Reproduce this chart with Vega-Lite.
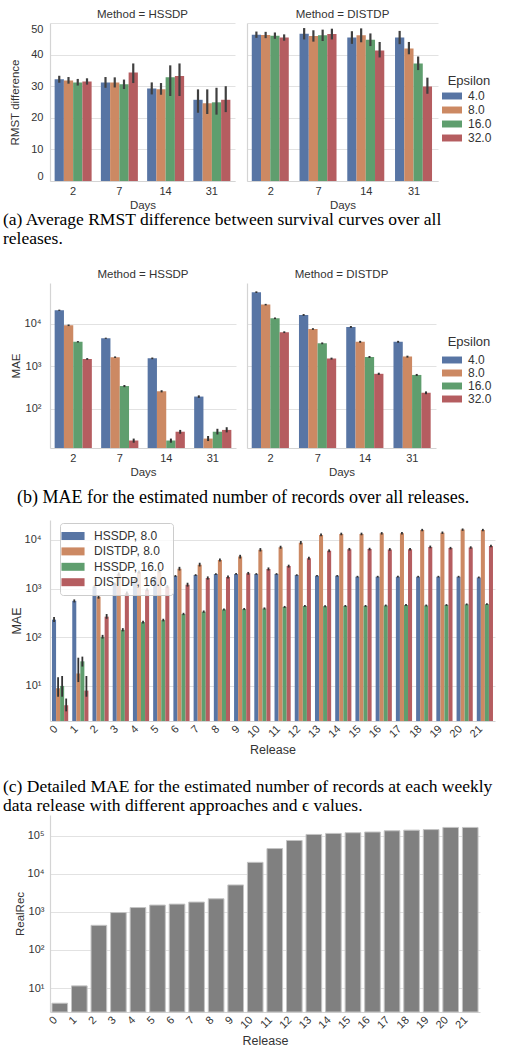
{
  "$schema": "https://vega.github.io/schema/vega-lite/v6.json",
  "padding": {"left": 3, "top": 8, "right": 2, "bottom": 0},
  "config": {
    "font": "Liberation Sans",
    "view": {"stroke": null},
    "axis": {"domainColor": "#d4d4d4", "gridColor": "#e2e2e2", "ticks": false, "labelColor": "#333333", "titleColor": "#333333", "titleFontWeight": "normal", "labelFontSize": 11, "titleFontSize": 11.5, "domainWidth": 1.2, "gridWidth": 1, "labelOverlap": false},
    "axisX": {"grid": false},
    "legend": {"labelColor": "#333333", "titleColor": "#333333", "labelFont": "Liberation Sans", "titleFont": "Liberation Sans"},
    "title": {"color": "#333333", "fontWeight": "normal", "font": "Liberation Sans"}
  },
  "datasets": {
    "a": [
      {"Method":"HSSDP","Days":2,"Epsilon":"4.0","v":32.2,"lo":31.1,"hi":33.3},
      {"Method":"HSSDP","Days":2,"Epsilon":"8.0","v":31.8,"lo":30.8,"hi":32.9},
      {"Method":"HSSDP","Days":2,"Epsilon":"16.0","v":31.2,"lo":30.2,"hi":32.3},
      {"Method":"HSSDP","Days":2,"Epsilon":"32.0","v":31.5,"lo":30.5,"hi":32.5},
      {"Method":"HSSDP","Days":7,"Epsilon":"4.0","v":31.2,"lo":29.5,"hi":32.9},
      {"Method":"HSSDP","Days":7,"Epsilon":"8.0","v":31.2,"lo":29.6,"hi":32.8},
      {"Method":"HSSDP","Days":7,"Epsilon":"16.0","v":30.6,"lo":29.1,"hi":32.1},
      {"Method":"HSSDP","Days":7,"Epsilon":"32.0","v":34.3,"lo":31.0,"hi":37.2},
      {"Method":"HSSDP","Days":14,"Epsilon":"4.0","v":29.3,"lo":27.4,"hi":31.2},
      {"Method":"HSSDP","Days":14,"Epsilon":"8.0","v":29.0,"lo":27.3,"hi":31.0},
      {"Method":"HSSDP","Days":14,"Epsilon":"16.0","v":32.8,"lo":26.9,"hi":36.6},
      {"Method":"HSSDP","Days":14,"Epsilon":"32.0","v":33.2,"lo":26.9,"hi":37.2},
      {"Method":"HSSDP","Days":31,"Epsilon":"4.0","v":25.7,"lo":21.6,"hi":29.0},
      {"Method":"HSSDP","Days":31,"Epsilon":"8.0","v":24.6,"lo":21.2,"hi":29.0},
      {"Method":"HSSDP","Days":31,"Epsilon":"16.0","v":24.9,"lo":21.0,"hi":29.5},
      {"Method":"HSSDP","Days":31,"Epsilon":"32.0","v":25.7,"lo":21.8,"hi":30.0},
      {"Method":"DISTDP","Days":2,"Epsilon":"4.0","v":46.3,"lo":45.3,"hi":47.3},
      {"Method":"DISTDP","Days":2,"Epsilon":"8.0","v":46.2,"lo":45.2,"hi":47.2},
      {"Method":"DISTDP","Days":2,"Epsilon":"16.0","v":46.0,"lo":45.0,"hi":47.0},
      {"Method":"DISTDP","Days":2,"Epsilon":"32.0","v":45.4,"lo":44.4,"hi":46.4},
      {"Method":"DISTDP","Days":7,"Epsilon":"4.0","v":46.6,"lo":44.8,"hi":48.4},
      {"Method":"DISTDP","Days":7,"Epsilon":"8.0","v":45.9,"lo":44.1,"hi":47.7},
      {"Method":"DISTDP","Days":7,"Epsilon":"16.0","v":46.1,"lo":44.3,"hi":47.9},
      {"Method":"DISTDP","Days":7,"Epsilon":"32.0","v":46.5,"lo":44.8,"hi":48.2},
      {"Method":"DISTDP","Days":14,"Epsilon":"4.0","v":45.4,"lo":43.4,"hi":47.4},
      {"Method":"DISTDP","Days":14,"Epsilon":"8.0","v":46.1,"lo":43.9,"hi":48.3},
      {"Method":"DISTDP","Days":14,"Epsilon":"16.0","v":44.7,"lo":42.7,"hi":46.7},
      {"Method":"DISTDP","Days":14,"Epsilon":"32.0","v":41.3,"lo":39.1,"hi":44.0},
      {"Method":"DISTDP","Days":31,"Epsilon":"4.0","v":45.4,"lo":43.3,"hi":47.5},
      {"Method":"DISTDP","Days":31,"Epsilon":"8.0","v":41.9,"lo":40.1,"hi":44.0},
      {"Method":"DISTDP","Days":31,"Epsilon":"16.0","v":37.2,"lo":35.1,"hi":39.4},
      {"Method":"DISTDP","Days":31,"Epsilon":"32.0","v":29.9,"lo":27.6,"hi":32.7}
    ],
    "b": [
      {"Method":"HSSDP","Days":2,"Epsilon":"4.0","v":21000,"lo":20300,"hi":21700},
      {"Method":"HSSDP","Days":2,"Epsilon":"8.0","v":9300,"lo":8900,"hi":9700},
      {"Method":"HSSDP","Days":2,"Epsilon":"16.0","v":3800,"lo":3650,"hi":3950},
      {"Method":"HSSDP","Days":2,"Epsilon":"32.0","v":1500,"lo":1430,"hi":1570},
      {"Method":"HSSDP","Days":7,"Epsilon":"4.0","v":4600,"lo":4450,"hi":4750},
      {"Method":"HSSDP","Days":7,"Epsilon":"8.0","v":1650,"lo":1580,"hi":1720},
      {"Method":"HSSDP","Days":7,"Epsilon":"16.0","v":345,"lo":325,"hi":365},
      {"Method":"HSSDP","Days":7,"Epsilon":"32.0","v":18,"lo":16,"hi":20},
      {"Method":"HSSDP","Days":14,"Epsilon":"4.0","v":1550,"lo":1480,"hi":1620},
      {"Method":"HSSDP","Days":14,"Epsilon":"8.0","v":260,"lo":245,"hi":275},
      {"Method":"HSSDP","Days":14,"Epsilon":"16.0","v":18,"lo":16,"hi":20},
      {"Method":"HSSDP","Days":14,"Epsilon":"32.0","v":29,"lo":26,"hi":32},
      {"Method":"HSSDP","Days":31,"Epsilon":"4.0","v":195,"lo":182,"hi":208},
      {"Method":"HSSDP","Days":31,"Epsilon":"8.0","v":20,"lo":17.5,"hi":23},
      {"Method":"HSSDP","Days":31,"Epsilon":"16.0","v":29,"lo":25,"hi":34},
      {"Method":"HSSDP","Days":31,"Epsilon":"32.0","v":32,"lo":28,"hi":37},
      {"Method":"DISTDP","Days":2,"Epsilon":"4.0","v":56000,"lo":53500,"hi":58500},
      {"Method":"DISTDP","Days":2,"Epsilon":"8.0","v":28500,"lo":27300,"hi":29700},
      {"Method":"DISTDP","Days":2,"Epsilon":"16.0","v":13600,"lo":13000,"hi":14200},
      {"Method":"DISTDP","Days":2,"Epsilon":"32.0","v":6400,"lo":6100,"hi":6700},
      {"Method":"DISTDP","Days":7,"Epsilon":"4.0","v":16300,"lo":15500,"hi":17100},
      {"Method":"DISTDP","Days":7,"Epsilon":"8.0","v":7600,"lo":7250,"hi":7950},
      {"Method":"DISTDP","Days":7,"Epsilon":"16.0","v":3500,"lo":3330,"hi":3670},
      {"Method":"DISTDP","Days":7,"Epsilon":"32.0","v":1530,"lo":1450,"hi":1610},
      {"Method":"DISTDP","Days":14,"Epsilon":"4.0","v":8500,"lo":8050,"hi":8950},
      {"Method":"DISTDP","Days":14,"Epsilon":"8.0","v":3800,"lo":3600,"hi":4000},
      {"Method":"DISTDP","Days":14,"Epsilon":"16.0","v":1670,"lo":1580,"hi":1760},
      {"Method":"DISTDP","Days":14,"Epsilon":"32.0","v":670,"lo":630,"hi":710},
      {"Method":"DISTDP","Days":31,"Epsilon":"4.0","v":3800,"lo":3600,"hi":4000},
      {"Method":"DISTDP","Days":31,"Epsilon":"8.0","v":1700,"lo":1610,"hi":1790},
      {"Method":"DISTDP","Days":31,"Epsilon":"16.0","v":630,"lo":595,"hi":665},
      {"Method":"DISTDP","Days":31,"Epsilon":"32.0","v":240,"lo":222,"hi":258}
    ],
    "c": [
      {"R":0,"S":"HSSDP, 8.0","v":230,"lo":205,"hi":260},{"R":0,"S":"DISTDP, 8.0","v":9,"lo":6,"hi":15},{"R":0,"S":"HSSDP, 16.0","v":10,"lo":6,"hi":16},{"R":0,"S":"DISTDP, 16.0","v":4,"lo":3,"hi":5.5},
      {"R":1,"S":"HSSDP, 8.0","v":560,"lo":520,"hi":600},{"R":1,"S":"DISTDP, 8.0","v":18,"lo":12,"hi":38},{"R":1,"S":"HSSDP, 16.0","v":32,"lo":25,"hi":40},{"R":1,"S":"DISTDP, 16.0","v":8,"lo":6,"hi":16},
      {"R":2,"S":"HSSDP, 8.0","v":1100,"lo":1020,"hi":1180},{"R":2,"S":"DISTDP, 8.0","v":680,"lo":620,"hi":740},{"R":2,"S":"HSSDP, 16.0","v":102,"lo":94,"hi":112},{"R":2,"S":"DISTDP, 16.0","v":265,"lo":240,"hi":300},
      {"R":3,"S":"HSSDP, 8.0","v":1250,"lo":1170,"hi":1330},{"R":3,"S":"DISTDP, 8.0","v":2000,"lo":1850,"hi":2150},{"R":3,"S":"HSSDP, 16.0","v":142,"lo":132,"hi":154},{"R":3,"S":"DISTDP, 16.0","v":800,"lo":740,"hi":870},
      {"R":4,"S":"HSSDP, 8.0","v":1500,"lo":1420,"hi":1580},{"R":4,"S":"DISTDP, 8.0","v":2200,"lo":2050,"hi":2350},{"R":4,"S":"HSSDP, 16.0","v":205,"lo":192,"hi":218},{"R":4,"S":"DISTDP, 16.0","v":950,"lo":880,"hi":1020},
      {"R":5,"S":"HSSDP, 8.0","v":1700,"lo":1620,"hi":1780},{"R":5,"S":"DISTDP, 8.0","v":2300,"lo":2150,"hi":2450},{"R":5,"S":"HSSDP, 16.0","v":225,"lo":212,"hi":240},{"R":5,"S":"DISTDP, 16.0","v":1100,"lo":1020,"hi":1180},
      {"R":6,"S":"HSSDP, 8.0","v":1820,"lo":1740,"hi":1900},{"R":6,"S":"DISTDP, 8.0","v":2550,"lo":2350,"hi":2800},{"R":6,"S":"HSSDP, 16.0","v":300,"lo":285,"hi":318},{"R":6,"S":"DISTDP, 16.0","v":1200,"lo":1100,"hi":1320},
      {"R":7,"S":"HSSDP, 8.0","v":1900,"lo":1820,"hi":1980},{"R":7,"S":"DISTDP, 8.0","v":3100,"lo":2850,"hi":3400},{"R":7,"S":"HSSDP, 16.0","v":335,"lo":318,"hi":355},{"R":7,"S":"DISTDP, 16.0","v":1650,"lo":1530,"hi":1780},
      {"R":8,"S":"HSSDP, 8.0","v":1990,"lo":1910,"hi":2070},{"R":8,"S":"DISTDP, 8.0","v":3870,"lo":3600,"hi":4150},{"R":8,"S":"HSSDP, 16.0","v":373,"lo":355,"hi":392},{"R":8,"S":"DISTDP, 16.0","v":1730,"lo":1620,"hi":1850},
      {"R":9,"S":"HSSDP, 8.0","v":2000,"lo":1920,"hi":2080},{"R":9,"S":"DISTDP, 8.0","v":4550,"lo":4150,"hi":4950},{"R":9,"S":"HSSDP, 16.0","v":380,"lo":362,"hi":400},{"R":9,"S":"DISTDP, 16.0","v":2060,"lo":1930,"hi":2200},
      {"R":10,"S":"HSSDP, 8.0","v":2000,"lo":1920,"hi":2080},{"R":10,"S":"DISTDP, 8.0","v":6300,"lo":5800,"hi":6800},{"R":10,"S":"HSSDP, 16.0","v":390,"lo":372,"hi":410},{"R":10,"S":"DISTDP, 16.0","v":2530,"lo":2350,"hi":2720},
      {"R":11,"S":"HSSDP, 8.0","v":2000,"lo":1920,"hi":2080},{"R":11,"S":"DISTDP, 8.0","v":7100,"lo":6600,"hi":7600},{"R":11,"S":"HSSDP, 16.0","v":420,"lo":400,"hi":440},{"R":11,"S":"DISTDP, 16.0","v":2900,"lo":2700,"hi":3100},
      {"R":12,"S":"HSSDP, 8.0","v":1900,"lo":1830,"hi":1970},{"R":12,"S":"DISTDP, 8.0","v":8800,"lo":8100,"hi":9500},{"R":12,"S":"HSSDP, 16.0","v":440,"lo":420,"hi":460},{"R":12,"S":"DISTDP, 16.0","v":4200,"lo":3900,"hi":4500},
      {"R":13,"S":"HSSDP, 8.0","v":1840,"lo":1770,"hi":1910},{"R":13,"S":"DISTDP, 8.0","v":12700,"lo":11900,"hi":13500},{"R":13,"S":"HSSDP, 16.0","v":435,"lo":415,"hi":455},{"R":13,"S":"DISTDP, 16.0","v":6000,"lo":5600,"hi":6400},
      {"R":14,"S":"HSSDP, 8.0","v":1830,"lo":1760,"hi":1900},{"R":14,"S":"DISTDP, 8.0","v":13300,"lo":12500,"hi":14100},{"R":14,"S":"HSSDP, 16.0","v":440,"lo":420,"hi":460},{"R":14,"S":"DISTDP, 16.0","v":6450,"lo":6050,"hi":6850},
      {"R":15,"S":"HSSDP, 8.0","v":1760,"lo":1690,"hi":1830},{"R":15,"S":"DISTDP, 8.0","v":13300,"lo":12500,"hi":14100},{"R":15,"S":"HSSDP, 16.0","v":440,"lo":420,"hi":460},{"R":15,"S":"DISTDP, 16.0","v":6500,"lo":6100,"hi":6900},
      {"R":16,"S":"HSSDP, 8.0","v":1760,"lo":1690,"hi":1830},{"R":16,"S":"DISTDP, 8.0","v":13700,"lo":12900,"hi":14500},{"R":16,"S":"HSSDP, 16.0","v":450,"lo":430,"hi":470},{"R":16,"S":"DISTDP, 16.0","v":6400,"lo":6000,"hi":6800},
      {"R":17,"S":"HSSDP, 8.0","v":1760,"lo":1690,"hi":1830},{"R":17,"S":"DISTDP, 8.0","v":13700,"lo":12900,"hi":14500},{"R":17,"S":"HSSDP, 16.0","v":460,"lo":440,"hi":480},{"R":17,"S":"DISTDP, 16.0","v":6450,"lo":6050,"hi":6850},
      {"R":18,"S":"HSSDP, 8.0","v":1760,"lo":1690,"hi":1830},{"R":18,"S":"DISTDP, 8.0","v":16000,"lo":15100,"hi":16900},{"R":18,"S":"HSSDP, 16.0","v":450,"lo":430,"hi":470},{"R":18,"S":"DISTDP, 16.0","v":7200,"lo":6750,"hi":7650},
      {"R":19,"S":"HSSDP, 8.0","v":1760,"lo":1690,"hi":1830},{"R":19,"S":"DISTDP, 8.0","v":14100,"lo":13300,"hi":14900},{"R":19,"S":"HSSDP, 16.0","v":460,"lo":440,"hi":480},{"R":19,"S":"DISTDP, 16.0","v":6800,"lo":6400,"hi":7200},
      {"R":20,"S":"HSSDP, 8.0","v":1760,"lo":1690,"hi":1830},{"R":20,"S":"DISTDP, 8.0","v":16300,"lo":15400,"hi":17200},{"R":20,"S":"HSSDP, 16.0","v":475,"lo":455,"hi":495},{"R":20,"S":"DISTDP, 16.0","v":7000,"lo":6600,"hi":7400},
      {"R":21,"S":"HSSDP, 8.0","v":1700,"lo":1630,"hi":1770},{"R":21,"S":"DISTDP, 8.0","v":16000,"lo":15100,"hi":16900},{"R":21,"S":"HSSDP, 16.0","v":480,"lo":460,"hi":500},{"R":21,"S":"DISTDP, 16.0","v":7500,"lo":7050,"hi":7950}
    ],
    "d": [
      {"R":0,"v":4.0},{"R":1,"v":11.4},{"R":2,"v":444},{"R":3,"v":960},{"R":4,"v":1300},{"R":5,"v":1510},
      {"R":6,"v":1600},{"R":7,"v":1810},{"R":8,"v":2210},{"R":9,"v":5100},{"R":10,"v":20000},{"R":11,"v":46000},
      {"R":12,"v":75000},{"R":13,"v":108000},{"R":14,"v":115000},{"R":15,"v":120000},{"R":16,"v":125000},
      {"R":17,"v":135000},{"R":18,"v":140000},{"R":19,"v":145000},{"R":20,"v":165000},{"R":21,"v":165000}
    ]
  },
  "columns": 1,
  "align": "none",
  "spacing": 13,
  "resolve": {"scale": {"x": "independent", "y": "independent", "color": "independent", "xOffset": "independent"}, "legend": {"color": "independent"}},
  "concat": [
    {
      "columns": 1,
      "align": "none",
      "spacing": 21,
      "resolve": {"scale": {"x": "independent", "y": "independent", "color": "independent", "xOffset": "independent"}, "legend": {"color": "independent"}},
      "concat": [
        {
          "title": {"text": ["(a) Average RMST difference between survival curves over all", "releases."], "orient": "bottom", "anchor": "start", "frame": "group", "dx": -47, "font": "Liberation Serif", "fontSize": 17.5, "lineHeight": 19, "color": "#000000", "fontWeight": "normal", "offset": 0},
          "spacing": 12,
          "resolve": {"legend": {"color": "independent"}},
          "hconcat": [
            {
              "width": 185, "height": 158,
              "data": {"name": "a"},
              "transform": [{"filter": "datum.Method === 'HSSDP'"}],
              "title": {"text": "Method = HSSDP", "fontSize": 11.5, "offset": 3},
              "encoding": {
                "x": {"field": "Days", "type": "ordinal", "title": "Days", "scale": {"paddingInner": 0.2, "paddingOuter": 0.1}, "axis": {"labelAngle": 0, "labelPadding": 4, "titlePadding": 3}},
                "xOffset": {"field": "Epsilon", "type": "nominal", "sort": ["4.0","8.0","16.0","32.0"], "scale": {"paddingInner": 0, "paddingOuter": 0}}
              },
              "layer": [
                {"mark": "bar", "encoding": {
                  "y": {"field": "v", "type": "quantitative", "title": "RMST difference", "scale": {"domain": [0, 50], "nice": false}, "axis": {"values": [0,10,20,30,40,50], "labelPadding": 7, "titlePadding": 10, "labelFlush": true}},
                  "color": {"field": "Epsilon", "type": "nominal", "sort": ["4.0","8.0","16.0","32.0"], "scale": {"domain": ["4.0","8.0","16.0","32.0"], "range": ["#5875A4","#CC8963","#5F9E6E","#B55D60"]}, "legend": null}}},
                {"mark": {"type": "rule", "color": "#404040", "strokeWidth": 2.2}, "encoding": {"y": {"field": "lo", "type": "quantitative", "title": "RMST difference", "axis": {"values": [0,10,20,30,40,50], "labelPadding": 7, "titlePadding": 10, "labelFlush": true}}, "y2": {"field": "hi"}}}
              ]
            },
            {
              "width": 191, "height": 158,
              "data": {"name": "a"},
              "transform": [{"filter": "datum.Method === 'DISTDP'"}],
              "title": {"text": "Method = DISTDP", "fontSize": 11.5, "offset": 3},
              "encoding": {
                "x": {"field": "Days", "type": "ordinal", "title": "Days", "scale": {"paddingInner": 0.2, "paddingOuter": 0.1}, "axis": {"labelAngle": 0, "labelPadding": 4, "titlePadding": 3}},
                "xOffset": {"field": "Epsilon", "type": "nominal", "sort": ["4.0","8.0","16.0","32.0"], "scale": {"paddingInner": 0, "paddingOuter": 0}}
              },
              "layer": [
                {"mark": "bar", "encoding": {
                  "y": {"field": "v", "type": "quantitative", "title": null, "scale": {"domain": [0, 50], "nice": false}, "axis": {"values": [0,10,20,30,40,50], "labels": false}},
                  "color": {"field": "Epsilon", "type": "nominal", "sort": ["4.0","8.0","16.0","32.0"], "scale": {"domain": ["4.0","8.0","16.0","32.0"], "range": ["#5875A4","#CC8963","#5F9E6E","#B55D60"]},
                    "legend": {"orient": "none", "legendX": 199, "legendY": 52, "title": "Epsilon", "titleFontSize": 13, "titleFontWeight": "normal", "labelFontSize": 12, "symbolType": "M-1.67,-0.58H1.67V0.58H-1.67Z", "symbolSize": 144, "symbolStrokeWidth": 0, "labelOffset": 10, "rowPadding": 2, "titleAnchor": "middle", "titlePadding": 2}}}},
                {"mark": {"type": "rule", "color": "#404040", "strokeWidth": 2.2}, "encoding": {"y": {"field": "lo", "type": "quantitative", "title": null, "axis": {"values": [0,10,20,30,40,50], "labels": false}}, "y2": {"field": "hi"}}}
              ]
            }
          ]
        },
        {
          "title": {"text": "(b) MAE for the estimated number of records over all releases.", "orient": "bottom", "anchor": "start", "frame": "group", "dx": -33, "font": "Liberation Serif", "fontSize": 18, "color": "#000000", "fontWeight": "normal", "offset": 11},
          "spacing": 11,
          "resolve": {"legend": {"color": "independent"}},
          "hconcat": [
            {
              "width": 186, "height": 165,
              "data": {"name": "b"},
              "transform": [{"filter": "datum.Method === 'HSSDP'"}],
              "title": {"text": "Method = HSSDP", "fontSize": 11.5, "offset": 3},
              "encoding": {
                "x": {"field": "Days", "type": "ordinal", "title": "Days", "scale": {"paddingInner": 0.2, "paddingOuter": 0.1}, "axis": {"labelAngle": 0, "labelPadding": 4, "titlePadding": 3}},
                "xOffset": {"field": "Epsilon", "type": "nominal", "sort": ["4.0","8.0","16.0","32.0"], "scale": {"paddingInner": 0, "paddingOuter": 0}}
              },
              "layer": [
                {"mark": "bar", "encoding": {
                  "y": {"field": "v", "type": "quantitative", "title": "MAE", "scale": {"type": "log", "domain": [12, 92000], "nice": false}, "axis": {"values": [100,1000,10000], "labelExpr": "'10' + ['⁰','¹','²','³','⁴','⁵','⁶'][round(log(datum.value)/LN10)]", "labelPadding": 9, "titlePadding": 3}},
                  "y2": {"datum": 12},
                  "color": {"field": "Epsilon", "type": "nominal", "sort": ["4.0","8.0","16.0","32.0"], "scale": {"domain": ["4.0","8.0","16.0","32.0"], "range": ["#5875A4","#CC8963","#5F9E6E","#B55D60"]}, "legend": null}}},
                {"mark": {"type": "rule", "color": "#333333", "strokeWidth": 2}, "encoding": {"y": {"field": "lo", "type": "quantitative", "title": "MAE", "axis": {"values": [100,1000,10000], "labelExpr": "'10' + ['⁰','¹','²','³','⁴','⁵','⁶'][round(log(datum.value)/LN10)]", "labelPadding": 9, "titlePadding": 3}}, "y2": {"field": "hi"}}}
              ]
            },
            {
              "width": 189, "height": 165,
              "data": {"name": "b"},
              "transform": [{"filter": "datum.Method === 'DISTDP'"}],
              "title": {"text": "Method = DISTDP", "fontSize": 11.5, "offset": 3},
              "encoding": {
                "x": {"field": "Days", "type": "ordinal", "title": "Days", "scale": {"paddingInner": 0.2, "paddingOuter": 0.1}, "axis": {"labelAngle": 0, "labelPadding": 4, "titlePadding": 3}},
                "xOffset": {"field": "Epsilon", "type": "nominal", "sort": ["4.0","8.0","16.0","32.0"], "scale": {"paddingInner": 0, "paddingOuter": 0}}
              },
              "layer": [
                {"mark": "bar", "encoding": {
                  "y": {"field": "v", "type": "quantitative", "title": null, "scale": {"type": "log", "domain": [12, 92000], "nice": false}, "axis": {"values": [100,1000,10000], "labels": false}},
                  "y2": {"datum": 12},
                  "color": {"field": "Epsilon", "type": "nominal", "sort": ["4.0","8.0","16.0","32.0"], "scale": {"domain": ["4.0","8.0","16.0","32.0"], "range": ["#5875A4","#CC8963","#5F9E6E","#B55D60"]},
                    "legend": {"orient": "none", "legendX": 199, "legendY": 53, "title": "Epsilon", "titleFontSize": 13, "titleFontWeight": "normal", "labelFontSize": 12, "symbolType": "M-1.67,-0.58H1.67V0.58H-1.67Z", "symbolSize": 144, "symbolStrokeWidth": 0, "labelOffset": 10, "rowPadding": 1, "titleAnchor": "middle", "titlePadding": 5}}}},
                {"mark": {"type": "rule", "color": "#333333", "strokeWidth": 2}, "encoding": {"y": {"field": "lo", "type": "quantitative", "title": null, "axis": {"values": [100,1000,10000], "labels": false}}, "y2": {"field": "hi"}}}
              ]
            }
          ]
        }
      ]
    },
    {
      "columns": 1,
      "align": "none",
      "spacing": 0,
      "resolve": {"scale": {"x": "independent", "y": "independent", "color": "independent", "xOffset": "independent"}, "legend": {"color": "independent"}},
      "concat": [
        {
          "title": {"text": ["(c) Detailed MAE for the estimated number of records at each weekly", "data release with different approaches and ϵ values."], "orient": "bottom", "anchor": "start", "frame": "group", "dx": -47, "font": "Liberation Serif", "fontSize": 17.5, "lineHeight": 19, "color": "#000000", "fontWeight": "normal", "offset": 22},
          "width": 445, "height": 201,
          "data": {"name": "c"},
          "encoding": {
            "x": {"field": "R", "type": "ordinal", "title": "Release", "scale": {"paddingInner": 0.2, "paddingOuter": 0.1}, "axis": {"labelAngle": -45, "labelAlign": "right", "labelBaseline": "middle", "labelOffset": -4, "labelPadding": 6, "titlePadding": 4, "titleFontSize": 12.5}},
            "xOffset": {"field": "S", "type": "nominal", "sort": ["HSSDP, 8.0","DISTDP, 8.0","HSSDP, 16.0","DISTDP, 16.0"], "scale": {"paddingInner": 0, "paddingOuter": 0}}
          },
          "layer": [
            {"mark": "bar", "encoding": {
              "y": {"field": "v", "type": "quantitative", "title": "MAE", "scale": {"type": "log", "domain": [1.9, 25700], "nice": false}, "axis": {"values": [10,100,1000,10000], "labelExpr": "'10' + ['⁰','¹','²','³','⁴','⁵','⁶'][round(log(datum.value)/LN10)]", "labelPadding": 9, "titlePadding": 1, "titleFontSize": 12.5}},
              "y2": {"datum": 1.9},
              "color": {"field": "S", "type": "nominal", "sort": ["HSSDP, 8.0","DISTDP, 8.0","HSSDP, 16.0","DISTDP, 16.0"], "scale": {"domain": ["HSSDP, 8.0","DISTDP, 8.0","HSSDP, 16.0","DISTDP, 16.0"], "range": ["#5875A4","#CC8963","#5F9E6E","#B55D60"]},
                "legend": {"orient": "none", "legendX": 10, "legendY": 3, "title": null, "labelFontSize": 12, "symbolType": "M-1.65,-0.57H1.65V0.57H-1.65Z", "symbolSize": 196, "symbolStrokeWidth": 0, "labelOffset": 14, "rowPadding": 2.4, "padding": 6, "fillColor": "rgba(255,255,255,0.8)", "strokeColor": "#cccccc", "cornerRadius": 3}}}},
            {"mark": {"type": "rule", "color": "#333333", "strokeWidth": 1.8}, "encoding": {"y": {"field": "lo", "type": "quantitative", "title": "MAE", "axis": {"values": [10,100,1000,10000], "labelExpr": "'10' + ['⁰','¹','²','³','⁴','⁵','⁶'][round(log(datum.value)/LN10)]", "labelPadding": 9, "titlePadding": 1, "titleFontSize": 12.5}}, "y2": {"field": "hi"}}}
          ]
        },
        {
          "width": 430, "height": 197,
          "data": {"name": "d"},
          "mark": {"type": "bar", "color": "#808080", "stroke": "#c4c4c4", "strokeWidth": 1},
          "encoding": {
            "x": {"field": "R", "type": "ordinal", "title": "Release", "scale": {"paddingInner": 0.2, "paddingOuter": 0.1}, "axis": {"labelAngle": -45, "labelAlign": "right", "labelBaseline": "middle", "labelOffset": -4, "labelPadding": 6, "titlePadding": 4, "titleFontSize": 12.5}},
            "y": {"field": "v", "type": "quantitative", "title": "RealRec", "scale": {"type": "log", "domain": [2.35, 350000], "nice": false}, "axis": {"values": [10,100,1000,10000,100000], "labelExpr": "'10' + ['⁰','¹','²','³','⁴','⁵','⁶'][round(log(datum.value)/LN10)]", "labelPadding": 6, "titlePadding": 2}},
            "y2": {"datum": 2.35}
          }
        }
      ]
    }
  ]
}
